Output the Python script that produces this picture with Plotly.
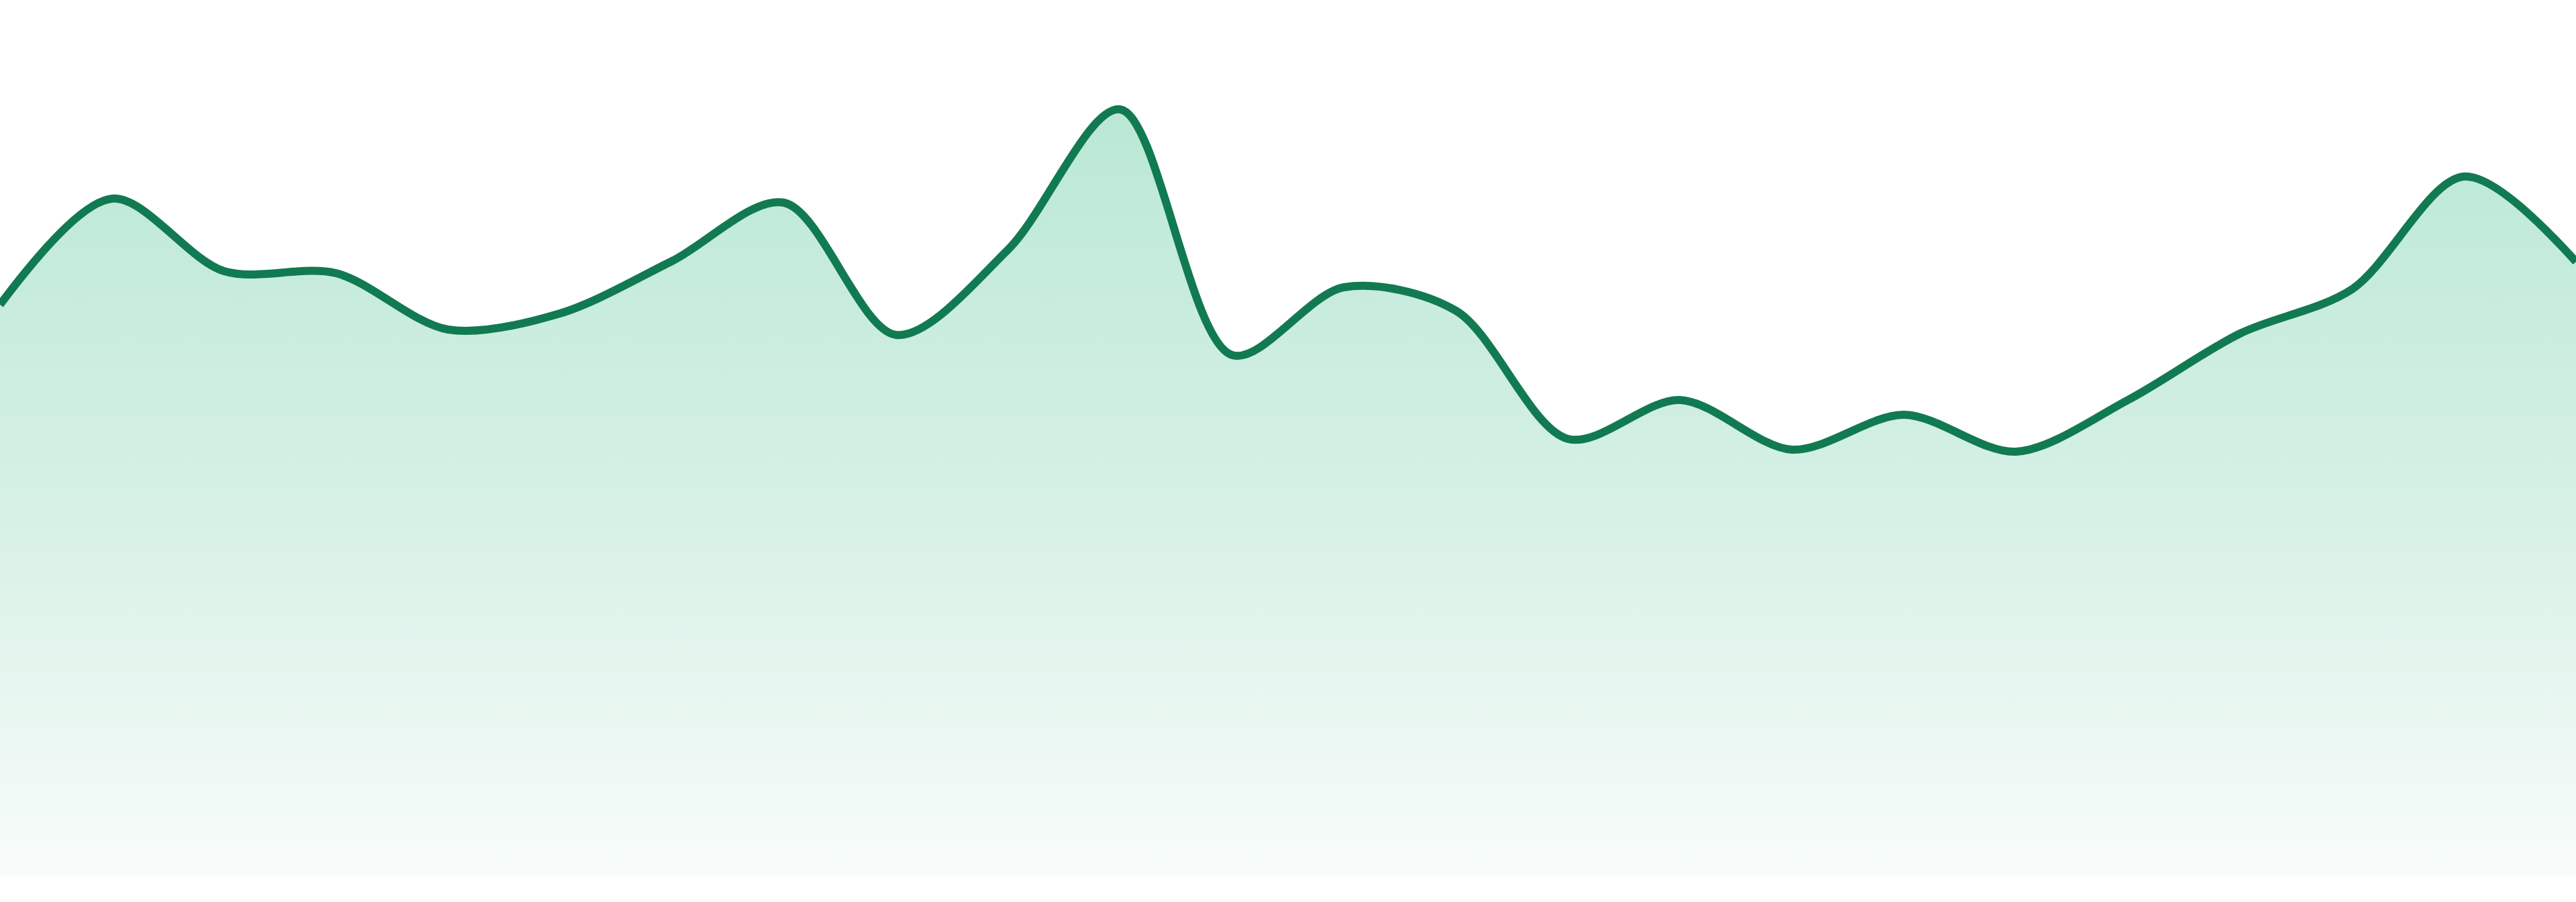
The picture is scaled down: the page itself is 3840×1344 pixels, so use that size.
import plotly.graph_objects as go

# Data (24 evenly spaced samples, arbitrary units)
x_index = list(range(24))
values = [85.1, 100.9, 90.1, 89.8, 81.4, 83.8, 91.6, 100.3, 80.6, 93.3, 114.2, 77.6,
          87.7, 84.2, 65.1, 70.9, 63.5, 68.7, 63.2, 70.9, 80.8, 87.4, 104.2, 91.5]

y_min = 0
y_max = 130.5

fig = go.Figure()
fig.add_trace(go.Scatter(
    x=x_index,
    y=values,
    mode="lines",
    line=dict(color="#117a51", width=12, shape="spline", smoothing=0.9),
    fill="tozeroy",
    fillgradient=dict(
        type="vertical",
        colorscale=[[0.0, "rgb(248,252,250)"],
                    [0.5, "rgb(213,240,229)"],
                    [1.0, "rgb(186,232,213)"]],
    ),
    hoverinfo="skip",
    showlegend=False,
))

fig.update_layout(
    width=3840,
    height=1344,
    margin=dict(l=0, r=0, t=0, b=39),
    paper_bgcolor="white",
    plot_bgcolor="white",
    xaxis=dict(range=[0, 23], visible=False, fixedrange=True),
    yaxis=dict(range=[y_min, y_max], visible=False, fixedrange=True),
)

fig.write_html(
    "out.html",
    config={"displayModeBar": False},
    post_script="document.body.style.margin='0';document.body.style.overflow='hidden';",
)
